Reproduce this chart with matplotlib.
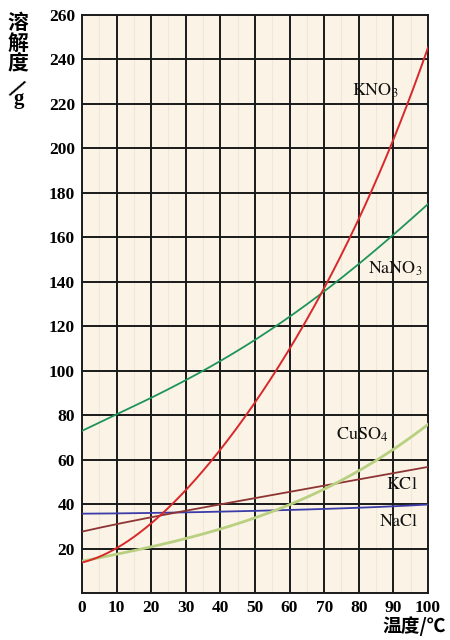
import numpy as np
import matplotlib
matplotlib.use('Agg')
from matplotlib import pyplot as plt

# ---------------- dados ----------------
temp = [0, 10, 20, 30, 40, 50, 60, 70, 80, 90, 100]
kno3 = [13.3, 20.9, 31.6, 45.8, 63.9, 85.5, 110, 138, 169, 202, 246]
nano3 = [73, 80, 88, 96, 104, 114, 124, 136, 148, 161, 175]
cuso4 = [14.3, 17.4, 20.7, 25.0, 28.5, 33.3, 40.0, 47.1, 55.0, 64.2, 76.0]
kcl = [27.6, 31.0, 34.0, 37.0, 40.0, 42.6, 45.5, 48.3, 51.1, 54.0, 56.7]
nacl = [35.7, 35.8, 36.0, 36.3, 36.6, 37.0, 37.3, 37.8, 38.4, 39.0, 39.8]

xticks = [0, 10, 20, 30, 40, 50, 60, 70, 80, 90, 100]
yticks = [20, 40, 60, 80, 100, 120, 140, 160, 180, 200, 220, 240, 260]

plt.rcParams['mathtext.fontset'] = 'stix'

fig = plt.figure(figsize=(4.5, 6.4), dpi=100)
ax = fig.add_axes([0.182, 0.0734, 0.769, 0.9032])
ax.set_facecolor('#faf3e6')

ax.set_xlim(0, 100)
ax.set_ylim(0, 260)

# grade fraca
for xv in np.arange(5, 100, 5):
    ax.axvline(xv, color='#f0e8d6', lw=0.8, zorder=0)
# grade principal
for xv in xticks[1:-1]:
    ax.axvline(xv, color='#1a1a1a', lw=1.4, zorder=1)
for yv in yticks[:-1]:
    ax.axhline(yv, color='#1a1a1a', lw=1.4, zorder=1)

# curvas
xs = np.linspace(0, 100, 201)
def suave(y):
    c = np.polyfit(temp, y, 4)
    return np.polyval(c, xs)

ax.plot(xs, suave(nacl), color='#3c3ca8', lw=1.3, zorder=3)
ax.plot(xs, suave(kcl), color='#8e3434', lw=1.3, zorder=3)
ax.plot(xs, suave(cuso4), color='#b8d080', lw=2.0, zorder=3)
ax.plot(xs, suave(nano3), color='#1f9458', lw=1.3, zorder=3)
ax.plot(xs, suave(kno3), color='#d8282a', lw=1.4, zorder=3)

lab = dict(fontsize=13, color='#111111', ha='center', va='center', zorder=5)
ax.text(84.7, 226, r'$\mathrm{KNO_3}$', **lab)
ax.text(90.5, 146, r'$\mathrm{NaNO_3}$', **lab)
ax.text(81.0, 71, r'$\mathrm{CuSO_4}$', **lab)
ax.text(92.5, 49, r'$\mathrm{KCl}$', **lab)
ax.text(91.6, 32.5, r'$\mathrm{NaCl}$', **lab)

ax.set_xticks(xticks)
ax.set_yticks(yticks)
ax.set_xticklabels([str(v) for v in xticks], family='Liberation Serif', weight='bold', fontsize=12.5)
ax.set_yticklabels([str(v) for v in yticks], family='Liberation Serif', weight='bold', fontsize=12.5)
ax.tick_params(length=0, pad=5)

for s in ax.spines.values():
    s.set_color('#1a1a1a')
    s.set_linewidth(1.4)

cjk = ['Noto Sans CJK SC', 'DejaVu Sans']
fig.text(0.04, 0.982, '溶\n解\n度', family=cjk, weight='bold', fontsize=15,
         ha='center', va='top', linespacing=1.0)
fig.text(0.037, 0.863, '/', family=cjk, weight='bold', fontsize=15,
         ha='center', va='center', rotation=-35)
fig.text(0.042, 0.845, 'g', family='Liberation Serif', weight='bold', fontsize=15,
         ha='center', va='center')
fig.text(0.99, 0.022, '温度/℃', family=cjk, weight='bold', fontsize=13.5,
         ha='right', va='center')

plt.savefig('out.png', dpi=100)
